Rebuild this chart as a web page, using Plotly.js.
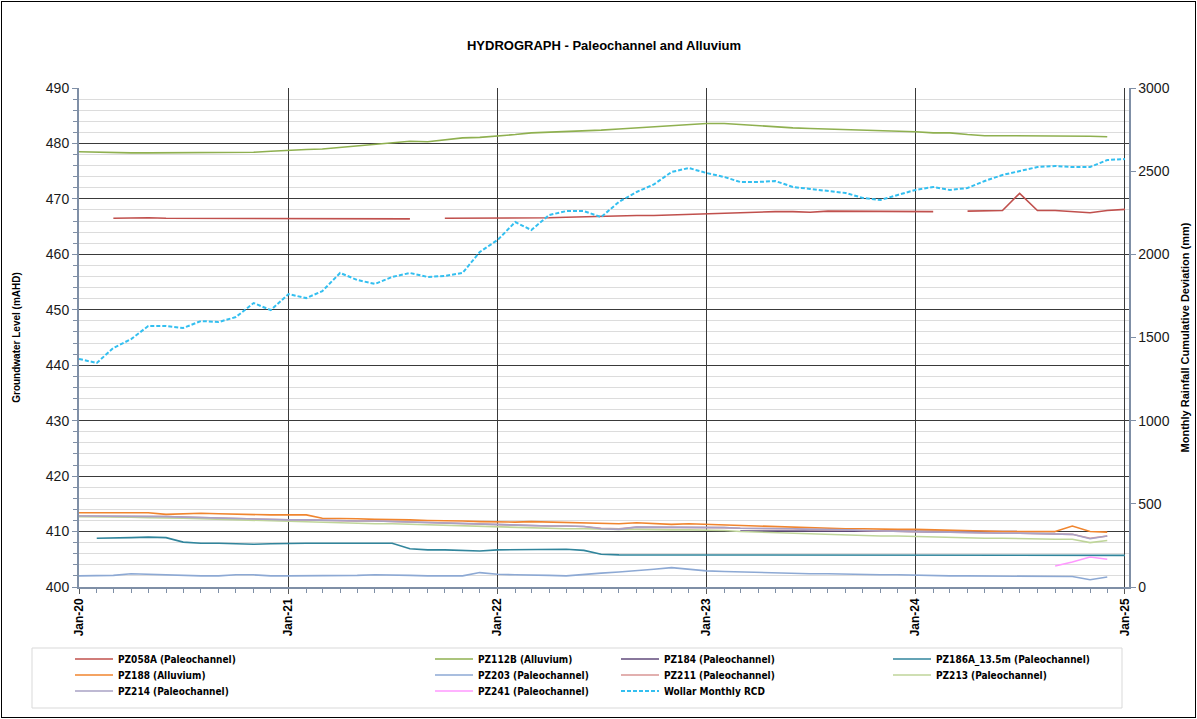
<!DOCTYPE html>
<html>
<head>
<meta charset="utf-8">
<script src="https://cdn.plot.ly/plotly-3.0.1.min.js"></script>
<style>
  html, body { margin: 0; padding: 0; background: #fff; }
  #wrap { position: relative; width: 1197px; height: 719px; }
  #chart { width: 1197px; height: 719px; }
  #frame { position: absolute; left: 1px; top: 1px; width: 1193px; height: 715px; border: 1px solid #000; pointer-events: none; }
</style>
</head>
<body>
<div id="wrap"><div id="chart"></div><div id="frame"></div></div>
<script>
// ---- DATA ----
const months = [
 '2020-01-01','2020-02-01','2020-03-01','2020-04-01','2020-05-01','2020-06-01','2020-07-01','2020-08-01','2020-09-01','2020-10-01','2020-11-01','2020-12-01',
 '2021-01-01','2021-02-01','2021-03-01','2021-04-01','2021-05-01','2021-06-01','2021-07-01','2021-08-01','2021-09-01','2021-10-01','2021-11-01','2021-12-01',
 '2022-01-01','2022-02-01','2022-03-01','2022-04-01','2022-05-01','2022-06-01','2022-07-01','2022-08-01','2022-09-01','2022-10-01','2022-11-01','2022-12-01',
 '2023-01-01','2023-02-01','2023-03-01','2023-04-01','2023-05-01','2023-06-01','2023-07-01','2023-08-01','2023-09-01','2023-10-01','2023-11-01','2023-12-01',
 '2024-01-01','2024-02-01','2024-03-01','2024-04-01','2024-05-01','2024-06-01','2024-07-01','2024-08-01','2024-09-01','2024-10-01','2024-11-01','2024-12-01',
 '2025-01-01'
];

const PZ058A = [null,null,466.5,466.6,466.6,466.5,466.5,466.4,466.5,466.5,466.4,466.4,
 466.4,466.4,466.4,466.4,466.4,466.4,466.5,466.4,null,466.5,466.5,466.5,
 466.5,466.5,466.5,466.6,466.7,466.8,466.8,466.9,467.0,467.0,467.1,467.2,
 467.4,467.5,467.6,467.7,467.7,467.7,467.6,467.8,467.8,467.8,467.8,467.7,
 467.7,467.7,null,467.8,467.8,467.9,471.0,467.9,467.9,467.7,467.5,467.9,468.1];

const PZ112B = [478.5,478.4,478.3,478.3,478.3,478.3,478.3,478.3,478.3,478.3,478.4,478.6,
 478.8,478.9,479.0,479.3,479.6,479.9,480.2,480.4,480.3,480.6,481.0,481.1,
 481.3,481.6,481.9,482.0,482.1,482.2,482.4,482.6,482.8,483.0,483.3,483.5,
 483.6,483.6,483.4,483.2,482.9,482.8,482.7,482.6,482.5,482.5,482.4,482.3,
 482.1,481.9,481.9,481.6,481.4,481.4,481.4,481.3,481.3,481.4,481.3,481.2,null];

const PZ184 = [null,null,null,null,null,null,null,null,null,null,null,null,
 null,null,null,null,null,null,null,null,null,null,null,null,
 null,null,null,null,null,null,null,null,null,null,null,null,
 null,null,410.1,410.1,410.1,410.1,410.1,410.1,410.1,410.1,410.1,410.1,
 410.1,410.1,410.1,410.1,410.1,410.0,410.0,410.0,410.0,null,null,null,null];

const PZ186A = [null,408.8,408.8,408.9,409.0,408.9,408.1,407.9,407.9,407.8,407.7,407.8,
 407.9,407.9,407.9,407.9,408.0,408.0,407.9,406.9,406.7,406.7,406.6,406.5,
 406.7,406.7,406.8,406.8,406.8,406.6,405.9,405.8,405.8,405.8,405.8,405.8,
 405.8,405.8,405.8,405.8,405.8,405.8,405.8,405.8,405.8,405.7,405.7,405.7,
 405.7,405.7,405.7,405.7,405.7,405.7,405.7,405.7,405.7,405.7,405.7,405.7,405.7];

const PZ188 = [413.4,413.4,413.3,413.3,413.4,413.1,413.2,413.3,413.2,413.1,413.1,413.0,
 413.0,413.0,412.4,412.4,412.3,412.2,412.2,412.1,412.0,412.0,411.9,411.8,
 411.7,411.7,411.8,411.7,411.6,411.5,411.5,411.4,411.6,411.5,411.3,411.4,
 411.3,411.2,411.0,411.0,410.9,410.8,410.7,410.6,410.5,410.5,410.4,410.4,
 410.4,410.3,410.2,410.1,410.1,410.0,410.0,410.0,410.0,411.0,410.0,409.9,null];

const PZ203 = [402.0,402.0,402.1,402.4,402.3,402.1,402.0,402.0,402.0,402.2,402.2,402.0,
 402.0,402.0,402.0,402.1,402.1,402.2,402.2,402.1,402.0,402.0,402.0,402.6,
 402.3,402.2,402.2,402.1,402.0,402.3,402.5,402.7,402.9,403.2,403.5,403.2,
 402.9,402.8,402.7,402.6,402.5,402.5,402.4,402.4,402.3,402.3,402.2,402.2,
 402.1,402.0,402.0,402.0,402.0,402.0,402.0,402.0,401.9,401.9,401.3,401.8,null];

const PZ211 = [412.8,412.8,412.8,412.7,412.7,412.7,412.6,412.5,412.4,412.3,412.2,412.2,
 412.1,412.1,412.0,412.0,411.9,411.9,411.8,411.7,411.6,411.5,411.4,411.3,
 411.2,411.2,411.1,411.0,411.0,410.9,410.6,410.5,410.8,410.8,410.8,410.7,
 410.7,410.7,410.6,410.6,410.5,410.5,410.4,410.4,410.3,410.2,410.1,410.0,
 410.0,409.9,409.9,409.8,409.8,409.7,409.7,409.6,409.5,409.5,408.8,409.2,null];

const PZ213 = [412.7,412.7,412.6,412.6,412.5,412.5,412.4,412.3,412.2,412.1,412.0,412.0,
 411.9,411.8,411.7,411.6,411.5,411.4,411.4,411.3,411.3,411.2,411.1,411.0,
 410.9,410.8,410.7,410.6,410.5,410.5,410.4,410.4,410.4,410.3,410.3,410.3,
 410.3,410.2,410.0,409.9,409.7,409.6,409.5,409.5,409.4,409.3,409.2,409.2,
 409.1,409.1,409.0,408.9,408.8,408.8,408.7,408.7,408.6,408.6,408.0,408.4,null];

const PZ214 = [412.8,412.8,412.8,412.7,412.7,412.7,412.6,412.5,412.4,412.3,412.2,412.2,
 412.1,412.1,412.0,412.0,411.9,411.9,411.8,411.7,411.6,411.5,411.4,411.3,
 411.2,411.2,411.1,411.0,411.0,410.9,410.5,410.4,410.8,410.8,410.8,410.7,
 410.7,410.7,410.6,410.6,410.5,410.5,410.4,410.4,410.3,410.2,410.1,410.0,
 410.0,409.9,409.9,409.8,409.8,409.7,409.7,409.6,409.5,409.5,408.7,409.2,null];

const PZ241 = [null,null,null,null,null,null,null,null,null,null,null,null,
 null,null,null,null,null,null,null,null,null,null,null,null,
 null,null,null,null,null,null,null,null,null,null,null,null,
 null,null,null,null,null,null,null,null,null,null,null,null,
 null,null,null,null,null,null,null,null,403.8,404.5,405.4,405.0,null];

const RCD = [1371,1347,1437,1490,1569,1569,1557,1599,1593,1623,1707,1665,
 1761,1737,1779,1888,1846,1822,1864,1888,1864,1870,1888,2014,
 2086,2194,2146,2236,2260,2260,2224,2315,2375,2420,2495,2519,
 2489,2465,2435,2435,2441,2405,2393,2381,2369,2339,2327,2357,
 2387,2405,2387,2399,2441,2477,2501,2525,2531,2525,2525,2567,2573];

const seriesNames = ['PZ058A (Paleochannel)','PZ112B (Alluvium)','PZ184 (Paleochannel)','PZ186A_13.5m (Paleochannel)',
 'PZ188 (Alluvium)','PZ203 (Paleochannel)','PZ211 (Paleochannel)','PZ213 (Paleochannel)',
 'PZ214 (Paleochannel)','PZ241 (Paleochannel)','Wollar Monthly RCD'];
const seriesValues = [PZ058A,PZ112B,PZ184,PZ186A,PZ188,PZ203,PZ211,PZ213,PZ214,PZ241,RCD];
const seriesColors = ['#C0504D','#8FB050','#604A7B','#31859C','#F0852E','#8DA9D4','#D99694','#BFD59A','#A9A2C5','#FF99FF','#33BFF0'];

// ---- LAYOUT GEOMETRY ----
const L = 79, R = 1129, T = 88, B = 587;
const W = R - L, H = B - T;
const px2x = p => (p - L) / W;
const py2y = p => (B - p) / H;
const legendColPx = [75, 435, 621, 893];
const legendRowPx = [659, 675, 691];

const traces = [];
const layoutLegends = {};
seriesNames.forEach((name, i) => {
  const isRCD = i === seriesNames.length - 1;
  const key = i === 0 ? 'legend' : 'legend' + (i + 1);
  traces.push({
    type: 'scatter', mode: 'lines', name: name,
    x: months, y: seriesValues[i],
    yaxis: isRCD ? 'y2' : 'y',
    legend: key,
    connectgaps: false,
    line: { color: seriesColors[i], width: isRCD ? 2 : 1.6, dash: isRCD ? '4px,2px' : 'solid' }
  });
  const col = i % 4, row = Math.floor(i / 4);
  layoutLegends[key] = {
    x: px2x(legendColPx[col] - 5), y: py2y(legendRowPx[row]),
    xanchor: 'left', yanchor: 'middle', xref: 'paper', yref: 'paper',
    bgcolor: 'rgba(0,0,0,0)', borderwidth: 0, itemwidth: 38,
    font: { family: 'Liberation Sans Narrow, Arial Narrow, DejaVu Sans Condensed, sans-serif', size: 10, weight: 'bold', color: '#000' }
  };
});

const layout = Object.assign({
  width: 1197, height: 719,
  margin: { l: L, r: 1197 - R, t: T, b: 719 - B, pad: 0 },
  paper_bgcolor: '#fff', plot_bgcolor: '#fff',
  showlegend: true,
  title: { text: 'HYDROGRAPH - Paleochannel and Alluvium', x: 0.5, xref: 'paper', xanchor: 'center', y: 1 - 45/719, yanchor: 'middle',
           font: { family: 'Liberation Sans, Arial, sans-serif', size: 13, weight: 'bold', color: '#000' } },
  xaxis: {
    type: 'date', range: ['2020-01-01', '2025-01-08'],
    tick0: '2020-01-01', dtick: 'M12', tickformat: '%b-%y', tickangle: -90,
    tickfont: { family: 'Liberation Sans, Arial, sans-serif', size: 12, weight: 'bold', color: '#000' },
    ticks: 'outside', ticklen: 5, tickcolor: '#595959',
    showgrid: true, gridcolor: '#3a3a3a', gridwidth: 1,
    showline: true, linecolor: '#7f8fa6', linewidth: 1.5,
    minor: { dtick: 'M1', tick0: '2020-01-01', ticks: 'outside', ticklen: 4, tickcolor: '#7f8fa6', showgrid: false },
    zeroline: false, fixedrange: true
  },
  yaxis: {
    range: [400, 490], dtick: 10, tick0: 400,
    tickfont: { family: 'Liberation Sans, Arial, sans-serif', size: 14, color: '#1a1a1a' },
    ticks: 'outside', ticklen: 5, tickcolor: '#7f8fa6',
    showgrid: true, gridcolor: '#3a3a3a', gridwidth: 1,
    minor: { dtick: 2, ticks: 'outside', ticklen: 4, tickcolor: '#7f8fa6', showgrid: true, gridcolor: '#dcdcdc', gridwidth: 1 },
    showline: true, linecolor: '#7f8fa6', linewidth: 2,
    title: { text: 'Groundwater Level (mAHD)', standoff: 23, font: { family: 'Liberation Sans, Arial, sans-serif', size: 10, weight: 'bold', color: '#000' } },
    zeroline: false, fixedrange: true
  },
  yaxis2: {
    overlaying: 'y', side: 'right', range: [0, 3000], dtick: 500, tick0: 0,
    tickfont: { family: 'Liberation Sans, Arial, sans-serif', size: 14, color: '#1a1a1a' },
    ticks: 'outside', ticklen: 5, tickcolor: '#7f8fa6',
    showgrid: false, showline: true, linecolor: '#7f8fa6', linewidth: 1.5,
    title: { text: 'Monthly Rainfall Cumulative Deviation (mm)', standoff: 12, font: { family: 'Liberation Sans, Arial, sans-serif', size: 11, weight: 'bold', color: '#000' } },
    zeroline: false, fixedrange: true
  },
  shapes: [{
    type: 'rect', xref: 'paper', yref: 'paper',
    x0: px2x(32), x1: px2x(1122), y0: py2y(708), y1: py2y(648),
    line: { color: '#d9d9d9', width: 1 }, fillcolor: 'rgba(0,0,0,0)', layer: 'below'
  }]
}, layoutLegends);

Plotly.newPlot('chart', traces, layout, { staticPlot: true, displayModeBar: false });
</script>
</body>
</html>
